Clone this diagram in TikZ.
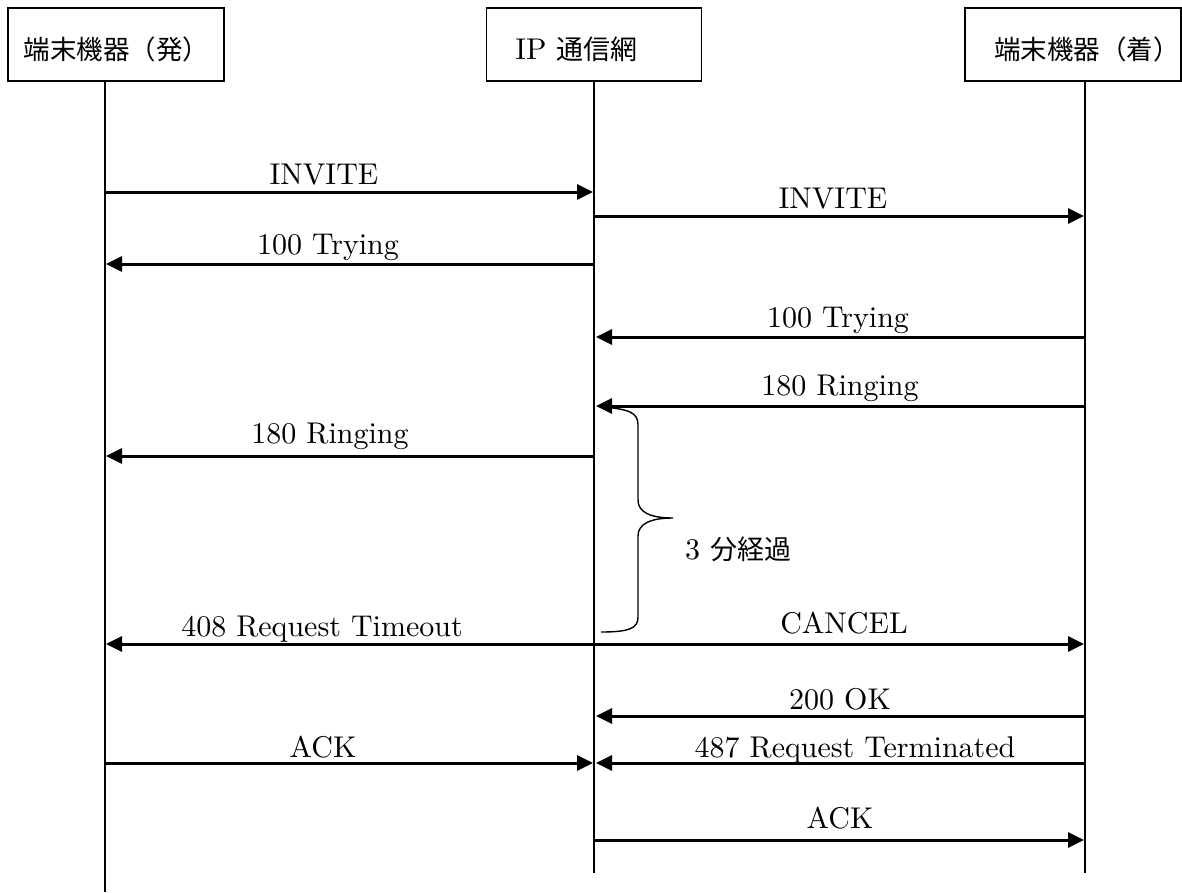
\documentclass[tikz,border=0pt]{standalone}
\usepackage{fontspec}
\setmainfont{lmroman10-regular.otf}
\newfontfamily\jpfont{Noto Sans CJK JP}
\usetikzlibrary{arrows.meta}

\begin{document}
\begin{tikzpicture}[x=1pt,y=-1pt,
  every node/.style={font=\fontsize{30}{36}\selectfont, inner sep=0pt, outer sep=0pt},
  jp/.style={font=\fontsize{26.5}{32}\selectfont\jpfont},
  actor/.style={draw, line width=1.6pt, minimum width=216pt, minimum height=73pt},
  life/.style={line width=1.6pt},
  msg/.style={line width=3pt, -{Triangle[length=16pt,width=15pt]}},
  lbl/.style={anchor=base},
  bracepath/.style={line width=1.4pt},
]
\useasboundingbox (0,0) rectangle (1182,892);

% participant boxes and their titles
\node[actor] (boxA) at (116,44.5) {};
\node[actor, minimum width=215pt] (boxB) at (594,44.5) {};
\node[actor] (boxC) at (1073,44.5) {};
\node[lbl, jp] (titleA) at (116.5,59) {端末機器（発）};
\node[lbl] (titleB) at (576.5,59) {IP {\fontsize{27}{32}\selectfont\jpfont 通信網}};
\node[lbl, jp] (titleC) at (1087,59) {端末機器（着）};

% lifelines
\coordinate (endA) at (105,892);
\coordinate (endB) at (594,873);
\coordinate (endC) at (1085,873);
\draw[life] (boxA.south -| endA) -- (endA);
\draw[life] (boxB.south -| endB) -- (endB);
\draw[life] (boxC.south -| endC) -- (endC);

% message end points on the lifelines
\coordinate (a1) at (104,192);   \coordinate (b1) at (593,192);
\coordinate (b2) at (595,216);   \coordinate (c2) at (1084,216);
\coordinate (b3) at (594,264);   \coordinate (a3) at (106,264);
\coordinate (c4) at (1085,337);  \coordinate (b4) at (596,337);
\coordinate (c5) at (1085,406);  \coordinate (b5) at (596,406);
\coordinate (b6) at (594,456);   \coordinate (a6) at (106,456);
\coordinate (b7) at (594,644);   \coordinate (a7) at (106,644);
\coordinate (b8) at (594,644);   \coordinate (c8) at (1084,644);
\coordinate (c9) at (1085,716);  \coordinate (b9) at (596,716);
\coordinate (a10) at (104,763);  \coordinate (b10) at (593,763);
\coordinate (c11) at (1085,763); \coordinate (b11) at (596,763);
\coordinate (b12) at (595,840);  \coordinate (c12) at (1084,840);

% messages
\draw[msg] (a1) -- (b1);
\node[lbl] (l1) at (324,184) {INVITE};
\draw[msg] (b2) -- (c2);
\node[lbl] (l2) at (833,208) {INVITE};
\draw[msg] (b3) -- (a3);
\node[lbl] (l3) at (328,254) {100 Trying};
\draw[msg] (c4) -- (b4);
\node[lbl] (l4) at (838,327) {100 Trying};
\draw[msg] (c5) -- (b5);
\node[lbl] (l5) at (840,395) {180 Ringing};
\draw[msg] (b6) -- (a6);
\node[lbl] (l6) at (330,443) {180 Ringing};
\draw[msg] (b7) -- (a7);
\node[lbl] (l7) at (322,636) {408 Request Timeout};
\draw[msg] (b8) -- (c8);
\node[lbl] (l8) at (844,633) {CANCEL};
\draw[msg] (c9) -- (b9);
\node[lbl] (l9) at (840,709) {200 OK};
\draw[msg] (a10) -- (b10);
\node[lbl] (l10) at (323,757) {ACK};
\draw[msg] (c11) -- (b11);
\node[lbl] (l11) at (855,757) {487 Request Terminated};
\draw[msg] (b12) -- (c12);
\node[lbl] (l12) at (840,828) {ACK};

% elapsed-time brace
\draw[bracepath] (602,407) .. controls (630,409) and (638,413) .. (638,425)
  -- (638,500) .. controls (638,512) and (650,518) .. (673,518)
  .. controls (650,518) and (638,524) .. (638,536)
  -- (638,617) .. controls (638,628) and (630,632) .. (601,632);
\node[lbl, anchor=base west] (elapsed) at (685,559) {3 {\fontsize{27}{32}\selectfont\jpfont 分経過}};
\end{tikzpicture}
\end{document}
